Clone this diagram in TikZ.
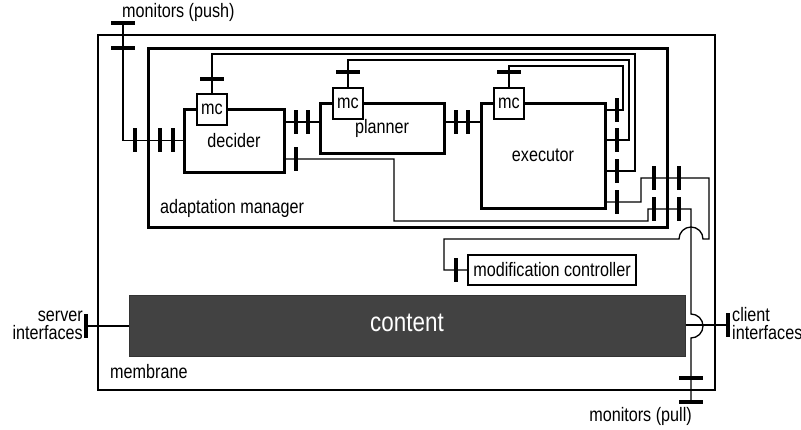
\documentclass[tikz,border=0pt]{standalone}
\usepackage{fontspec}
\setmainfont{Liberation Sans}[FakeStretch=0.83]
\begin{document}
\begin{tikzpicture}[x=1pt,y=-1pt,
  wire/.style={line width=1.3pt, draw=black},
  thickbox/.style={draw=black, line width=3pt, fill=white, inner sep=0pt, outer sep=0pt},
  thinbox/.style={draw=black, line width=1.3pt, fill=white, inner sep=0pt, outer sep=0pt},
  vbar/.style={fill=black, inner sep=0pt, minimum width=4.5pt, minimum height=24pt},
  hbar/.style={fill=black, inner sep=0pt, minimum width=24pt, minimum height=4.5pt},
  lbl/.style={font=\fontsize{19.5}{18}\selectfont, inner sep=0pt},
]
\useasboundingbox (0,0) rectangle (801,429);

% membrane and adaptation manager
\node[thinbox, minimum width=617pt, minimum height=355pt] (mem) at (406.5,212.5) {};
\node[thickbox, minimum width=519pt, minimum height=179pt] (am) at (407.5,137.5) {};

% bend points of the wires
\coordinate (r1) at (635,54);
\coordinate (r2) at (629,60);
\coordinate (r3) at (623,66);
\coordinate (k1) at (394,221);
\coordinate (k2) at (648,209);
\coordinate (tap) at (691,209);
\coordinate (hopA) at (691,314);
\coordinate (m1) at (641,178);
\coordinate (m2) at (709,239);
\coordinate (hopB) at (703,239);
\coordinate (m3) at (444,239);

% bars (interfaces)
\node[hbar] (push1) at (123,23) {};
\node[hbar] (push2) at (123,48) {};
\node[vbar] (l1) at (135,140) {};
\node[vbar] (l2) at (160,140) {};
\node[vbar] (l3) at (173,140) {};
\node[vbar] (dp1) at (296,122) {};
\node[vbar] (dp2) at (308,122) {};
\node[vbar] (dl) at (296,159) {};
\node[vbar] (pe1) at (456,122) {};
\node[vbar] (pe2) at (468,122) {};
\node[hbar] (bD) at (212,79) {};
\node[hbar] (bP) at (348,72) {};
\node[hbar] (bE) at (509,72) {};
\node[vbar] (ep1) at (617,110) {};
\node[vbar] (ep2) at (617,140) {};
\node[vbar] (ep3) at (617,171) {};
\node[vbar] (ep4) at (617,202) {};
\node[vbar] (x1) at (654,178) {};
\node[vbar] (x2) at (679,178) {};
\node[vbar] (x3) at (654,209) {};
\node[vbar] (x4) at (679,209) {};
\node[vbar] (mb) at (456,270) {};
\node[hbar] (pull1) at (691,378) {};
\node[hbar] (pull2) at (691,402) {};
\node[vbar] (srv) at (86,326) {};
\node[vbar] (cli) at (728,325) {};

% components
\node[thickbox, minimum width=100pt, minimum height=63pt] (dec) at (234,140.5) {};
\node[thickbox, minimum width=124pt, minimum height=50pt] (pla) at (382,128) {};
\node[thickbox, minimum width=124pt, minimum height=105pt] (exe) at (543,155.5) {};
\node[thinbox, minimum width=168pt, minimum height=30pt] (mod) at (552,270) {};
\node[draw=black!80, line width=1pt, fill=black!74, minimum width=556pt, minimum height=61pt, inner sep=0pt] (cont) at (407,325.5) {};

% wires
\draw[wire] (push1.center) |- (dec.west);
\draw[wire] (dec.east |- dp1) -- (pla.west |- dp1);
\draw[wire] (pla.east |- pe1) -- (exe.west |- pe1);
\draw[wire] (dec.east |- dl) -| (k1) -| (k2) -- (tap) -- (hopA)
  arc[start angle=-90, end angle=90, radius=12] -- (pull2.center);
\draw[wire] (exe.east |- ep4) -| (m1) -| (m2) -- (hopB)
  arc[start angle=0, end angle=-180, radius=12] -- (m3) |- (mod.west);
\draw[wire] (cont.west |- srv) -- (srv.center);
\draw[wire] (cont.east |- cli) -- (cli.center);

% management controllers and their wires
\node[thinbox, minimum width=30pt, minimum height=31pt, font=\fontsize{19.5}{18}\selectfont] (mcD) at (212,109.5) {mc};
\node[thinbox, minimum width=30pt, minimum height=31pt, font=\fontsize{19.5}{18}\selectfont] (mcP) at (348,103.5) {mc};
\node[thinbox, minimum width=30pt, minimum height=31pt, font=\fontsize{19.5}{18}\selectfont] (mcE) at (509,103.5) {mc};
\draw[wire] (mcD.north) |- (r1) |- (exe.east |- ep3);
\draw[wire] (mcP.north) |- (r2) |- (exe.east |- ep2);
\draw[wire] (mcE.north) |- (r3) |- (exe.east |- ep1);

% bars on top of wires
\foreach \b in {push1,push2,l1,l2,l3,dp1,dp2,dl,pe1,pe2,bD,bP,bE,ep1,ep2,ep3,ep4,x1,x2,x3,x4,mb,pull1,pull2,srv,cli}
  \fill[black] (\b.south west) rectangle (\b.north east);

% labels
\node[lbl] (tdec) at (dec.center) {decider};
\node[lbl] (tpla) at (pla.center) {planner};
\node[lbl] (texe) at (exe.center) {executor};
\node[lbl] (tmod) at (mod.center) {modification controller};
\node[font=\fontsize{27}{30}\selectfont, text=white, inner sep=0pt] (tcont) at (407,323) {content};
\node[lbl, anchor=west] (tam) at (160,208) {adaptation manager};
\node[lbl, anchor=west] (tmem) at (110,372) {membrane};
\node[lbl, anchor=west] (tpush) at (122,12) {monitors (push)};
\node[lbl, anchor=east] (tpull) at (692,416) {monitors (pull)};
\node[lbl, anchor=east, align=right] (tsrv) at (83,325) {server\\interfaces};
\node[lbl, anchor=west, align=left] (tcli) at (732,324) {client\\interfaces};
\end{tikzpicture}
\end{document}
